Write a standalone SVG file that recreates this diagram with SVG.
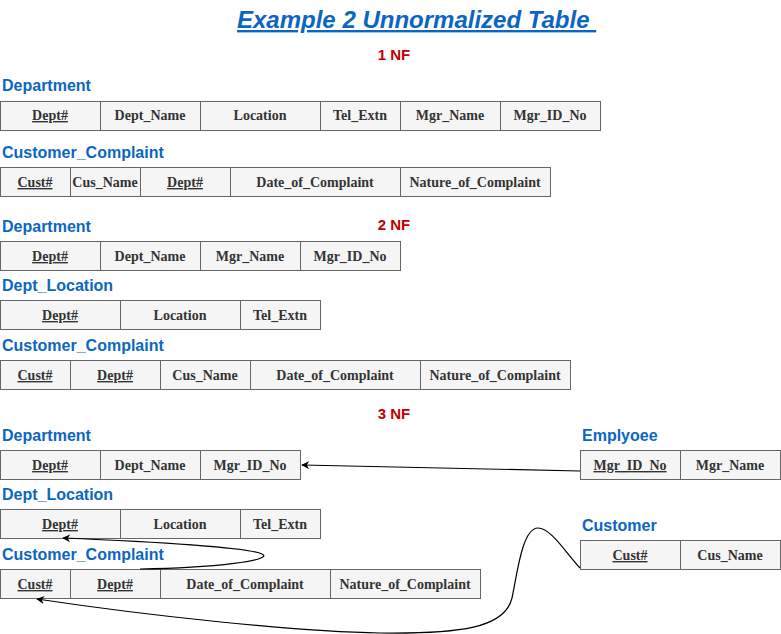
<svg xmlns="http://www.w3.org/2000/svg" width="781" height="634" viewBox="0 0 781 634">
<style>
.bg{fill:#ffffff}
.c{fill:#f5f5f5;stroke:#666666;stroke-width:1}
.t{font-family:"Liberation Serif",serif;font-size:14px;font-weight:bold;fill:#333333;text-anchor:middle}
.k{text-decoration:underline}
.lbl{font-family:"Liberation Sans",Arial,sans-serif;font-size:16px;font-weight:bold;fill:#0b66c3}
.nf{font-family:"Liberation Sans",Arial,sans-serif;font-size:15px;font-weight:bold;fill:#c00000;text-anchor:middle}
.title{font-family:"Liberation Sans",Arial,sans-serif;font-size:24px;font-weight:bold;font-style:italic;fill:#0b66c3;text-decoration:underline}
.e{fill:none;stroke:#000000;stroke-width:1.2}
</style>
<defs>
<marker id="arr" viewBox="0 0 10 10" refX="9" refY="5" markerWidth="8" markerHeight="8" markerUnits="userSpaceOnUse" orient="auto">
<path d="M0,0 L10,5 L0,10 L3,5 Z" fill="#000000"/>
</marker>
</defs>
<rect class="bg" x="0" y="0" width="781" height="634"/>
<text class="title" x="237" y="28" xml:space="preserve">Example 2 Unnormalized Table </text>
<text class="nf" x="394" y="60">1 NF</text>
<text class="nf" x="394" y="230">2 NF</text>
<text class="nf" x="394" y="419">3 NF</text>

<g id="nf1-department">
<text class="lbl" x="2" y="91">Department</text>
<rect class="c" x="0.5" y="101.5" width="100" height="29"/>
<rect class="c" x="100.5" y="101.5" width="100" height="29"/>
<rect class="c" x="200.5" y="101.5" width="120" height="29"/>
<rect class="c" x="320.5" y="101.5" width="80" height="29"/>
<rect class="c" x="400.5" y="101.5" width="100" height="29"/>
<rect class="c" x="500.5" y="101.5" width="100" height="29"/>
<text class="t k" x="50" y="120">Dept#</text>
<text class="t" x="150" y="120">Dept_Name</text>
<text class="t" x="260" y="120">Location</text>
<text class="t" x="360" y="120">Tel_Extn</text>
<text class="t" x="450" y="120">Mgr_Name</text>
<text class="t" x="550" y="120">Mgr_ID_No</text>
</g>

<g id="nf1-customer-complaint">
<text class="lbl" x="2" y="158">Customer_Complaint</text>
<rect class="c" x="0.5" y="167.5" width="70" height="29"/>
<rect class="c" x="70.5" y="167.5" width="70" height="29"/>
<rect class="c" x="140.5" y="167.5" width="90" height="29"/>
<rect class="c" x="230.5" y="167.5" width="170" height="29"/>
<rect class="c" x="400.5" y="167.5" width="150" height="29"/>
<text class="t k" x="35" y="187">Cust#</text>
<text class="t" x="105" y="187">Cus_Name</text>
<text class="t k" x="185" y="187">Dept#</text>
<text class="t" x="315" y="187">Date_of_Complaint</text>
<text class="t" x="475" y="187">Nature_of_Complaint</text>
</g>

<g id="nf2-department">
<text class="lbl" x="2" y="232">Department</text>
<rect class="c" x="0.5" y="241.5" width="100" height="29"/>
<rect class="c" x="100.5" y="241.5" width="100" height="29"/>
<rect class="c" x="200.5" y="241.5" width="100" height="29"/>
<rect class="c" x="300.5" y="241.5" width="100" height="29"/>
<text class="t k" x="50" y="261">Dept#</text>
<text class="t" x="150" y="261">Dept_Name</text>
<text class="t" x="250" y="261">Mgr_Name</text>
<text class="t" x="350" y="261">Mgr_ID_No</text>
</g>

<g id="nf2-dept-location">
<text class="lbl" x="2" y="291">Dept_Location</text>
<rect class="c" x="0.5" y="300.5" width="120" height="29"/>
<rect class="c" x="120.5" y="300.5" width="120" height="29"/>
<rect class="c" x="240.5" y="300.5" width="80" height="29"/>
<text class="t k" x="60" y="320">Dept#</text>
<text class="t" x="180" y="320">Location</text>
<text class="t" x="280" y="320">Tel_Extn</text>
</g>

<g id="nf2-customer-complaint">
<text class="lbl" x="2" y="351">Customer_Complaint</text>
<rect class="c" x="0.5" y="360.5" width="70" height="29"/>
<rect class="c" x="70.5" y="360.5" width="90" height="29"/>
<rect class="c" x="160.5" y="360.5" width="90" height="29"/>
<rect class="c" x="250.5" y="360.5" width="170" height="29"/>
<rect class="c" x="420.5" y="360.5" width="150" height="29"/>
<text class="t k" x="35" y="380">Cust#</text>
<text class="t k" x="115" y="380">Dept#</text>
<text class="t" x="205" y="380">Cus_Name</text>
<text class="t" x="335" y="380">Date_of_Complaint</text>
<text class="t" x="495" y="380">Nature_of_Complaint</text>
</g>

<g id="nf3-department">
<text class="lbl" x="2" y="441">Department</text>
<rect class="c" x="0.5" y="450.5" width="100" height="29"/>
<rect class="c" x="100.5" y="450.5" width="100" height="29"/>
<rect class="c" x="200.5" y="450.5" width="100" height="29"/>
<text class="t k" x="50" y="470">Dept#</text>
<text class="t" x="150" y="470">Dept_Name</text>
<text class="t" x="250" y="470">Mgr_ID_No</text>
</g>

<g id="nf3-dept-location">
<text class="lbl" x="2" y="500">Dept_Location</text>
<rect class="c" x="0.5" y="509.5" width="120" height="29"/>
<rect class="c" x="120.5" y="509.5" width="120" height="29"/>
<rect class="c" x="240.5" y="509.5" width="80" height="29"/>
<text class="t k" x="60" y="529">Dept#</text>
<text class="t" x="180" y="529">Location</text>
<text class="t" x="280" y="529">Tel_Extn</text>
</g>

<g id="nf3-customer-complaint">
<text class="lbl" x="2" y="560">Customer_Complaint</text>
<rect class="c" x="0.5" y="569.5" width="70" height="29"/>
<rect class="c" x="70.5" y="569.5" width="90" height="29"/>
<rect class="c" x="160.5" y="569.5" width="170" height="29"/>
<rect class="c" x="330.5" y="569.5" width="150" height="29"/>
<text class="t k" x="35" y="589">Cust#</text>
<text class="t k" x="115" y="589">Dept#</text>
<text class="t" x="245" y="589">Date_of_Complaint</text>
<text class="t" x="405" y="589">Nature_of_Complaint</text>
</g>

<g id="nf3-employee">
<text class="lbl" x="582" y="441">Emplyoee</text>
<rect class="c" x="580.5" y="450.5" width="100" height="29"/>
<rect class="c" x="680.5" y="450.5" width="100" height="29"/>
<text class="t k" x="630" y="470">Mgr_ID_No</text>
<text class="t" x="730" y="470">Mgr_Name</text>
</g>

<g id="nf3-customer">
<text class="lbl" x="582" y="531">Customer</text>
<rect class="c" x="580.5" y="540.5" width="100" height="29"/>
<rect class="c" x="680.5" y="540.5" width="100" height="29"/>
<text class="t k" x="630" y="560">Cust#</text>
<text class="t" x="730" y="560">Cus_Name</text>
</g>

<g id="connectors">
<path class="e" d="M580,471 L302,465" marker-end="url(#arr)"/>
<path class="e" d="M140,569 C215,568 275,560 262,554 C250,548 160,542 63,538" marker-end="url(#arr)"/>
<path class="e" d="M580,568 C566,553 551,528 538,528 C522,528 517,575 512,598 C505,628 460,634 380,633 C300,632 150,616 37,599" marker-end="url(#arr)"/>
</g>
</svg>
